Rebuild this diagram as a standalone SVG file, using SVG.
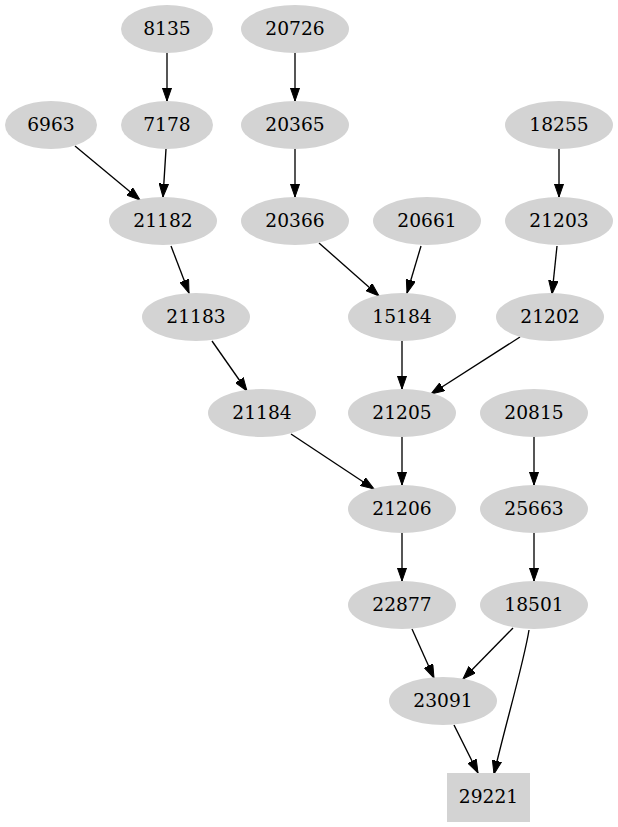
<svg xmlns="http://www.w3.org/2000/svg" width="618" height="827" viewBox="0 0 618 827">
<style>
.n ellipse, .n rect { fill: #d3d3d3; stroke: none; }
.n text { font-family: "DejaVu Serif", "Liberation Serif", serif; font-size: 18.67px; fill: #000; text-anchor: middle; }
#edges path { fill: none; stroke: #000; stroke-width: 1.33; marker-end: url(#arr); }
</style>
<defs>
<marker id="arr" markerUnits="userSpaceOnUse" viewBox="0 -5 14 10" refX="13.33" refY="0" markerWidth="14" markerHeight="10" orient="auto">
<path d="M0,-4.67 L13.33,0 L0,4.67 z" fill="#000" stroke="#000" stroke-width="1"/>
</marker>
</defs>
<rect width="618" height="827" fill="#fff"/>
<g id="edges">
<path d="M167,53 L167,101"/>
<path d="M295,53 L295,101"/>
<path d="M75,146 L140,200"/>
<path d="M166,149 L163,197"/>
<path d="M295,149 L295,197"/>
<path d="M559,149 L559,197"/>
<path d="M171,246 L189,293"/>
<path d="M319,243 L379,296"/>
<path d="M421,246 L407,293"/>
<path d="M557,246 L552,294"/>
<path d="M212,341 L247,391"/>
<path d="M402,341 L402,389"/>
<path d="M520,337 L431,394"/>
<path d="M291,434 L374,489"/>
<path d="M402,437 L402,485"/>
<path d="M534,437 L534,485"/>
<path d="M402,533 L402,581"/>
<path d="M534,533 L534,581"/>
<path d="M412,629 L434,678"/>
<path d="M513,628 L463,679"/>
<path d="M529,630 C524,662 504,730 494,774"/>
<path d="M454,725 L478,773"/>
</g>
<g id="n8135" class="n"><ellipse cx="167" cy="29" rx="46" ry="24"/><text x="167" y="34.5">8135</text></g>
<g id="n20726" class="n"><ellipse cx="295" cy="29" rx="54" ry="24"/><text x="295" y="34.5">20726</text></g>
<g id="n6963" class="n"><ellipse cx="51" cy="125" rx="46" ry="24"/><text x="51" y="130.5">6963</text></g>
<g id="n7178" class="n"><ellipse cx="167" cy="125" rx="46" ry="24"/><text x="167" y="130.5">7178</text></g>
<g id="n20365" class="n"><ellipse cx="295" cy="125" rx="54" ry="24"/><text x="295" y="130.5">20365</text></g>
<g id="n18255" class="n"><ellipse cx="559" cy="125" rx="54" ry="24"/><text x="559" y="130.5">18255</text></g>
<g id="n21182" class="n"><ellipse cx="163" cy="221" rx="54" ry="24"/><text x="163" y="226.5">21182</text></g>
<g id="n20366" class="n"><ellipse cx="295" cy="221" rx="54" ry="24"/><text x="295" y="226.5">20366</text></g>
<g id="n20661" class="n"><ellipse cx="427" cy="221" rx="54" ry="24"/><text x="427" y="226.5">20661</text></g>
<g id="n21203" class="n"><ellipse cx="559" cy="221" rx="54" ry="24"/><text x="559" y="226.5">21203</text></g>
<g id="n21183" class="n"><ellipse cx="196" cy="317" rx="54" ry="24"/><text x="196" y="322.5">21183</text></g>
<g id="n15184" class="n"><ellipse cx="402" cy="317" rx="54" ry="24"/><text x="402" y="322.5">15184</text></g>
<g id="n21202" class="n"><ellipse cx="550" cy="317" rx="54" ry="24"/><text x="550" y="322.5">21202</text></g>
<g id="n21184" class="n"><ellipse cx="262" cy="413" rx="54" ry="24"/><text x="262" y="418.5">21184</text></g>
<g id="n21205" class="n"><ellipse cx="402" cy="413" rx="54" ry="24"/><text x="402" y="418.5">21205</text></g>
<g id="n20815" class="n"><ellipse cx="534" cy="413" rx="54" ry="24"/><text x="534" y="418.5">20815</text></g>
<g id="n21206" class="n"><ellipse cx="402" cy="509" rx="54" ry="24"/><text x="402" y="514.5">21206</text></g>
<g id="n25663" class="n"><ellipse cx="534" cy="509" rx="54" ry="24"/><text x="534" y="514.5">25663</text></g>
<g id="n22877" class="n"><ellipse cx="402" cy="605" rx="54" ry="24"/><text x="402" y="610.5">22877</text></g>
<g id="n18501" class="n"><ellipse cx="534" cy="605" rx="54" ry="24"/><text x="534" y="610.5">18501</text></g>
<g id="n23091" class="n"><ellipse cx="443" cy="701" rx="54" ry="24"/><text x="443" y="706.5">23091</text></g>
<g id="n29221" class="n"><rect x="447" y="773" width="83" height="49"/><text x="488.5" y="802.5">29221</text></g>
</svg>
